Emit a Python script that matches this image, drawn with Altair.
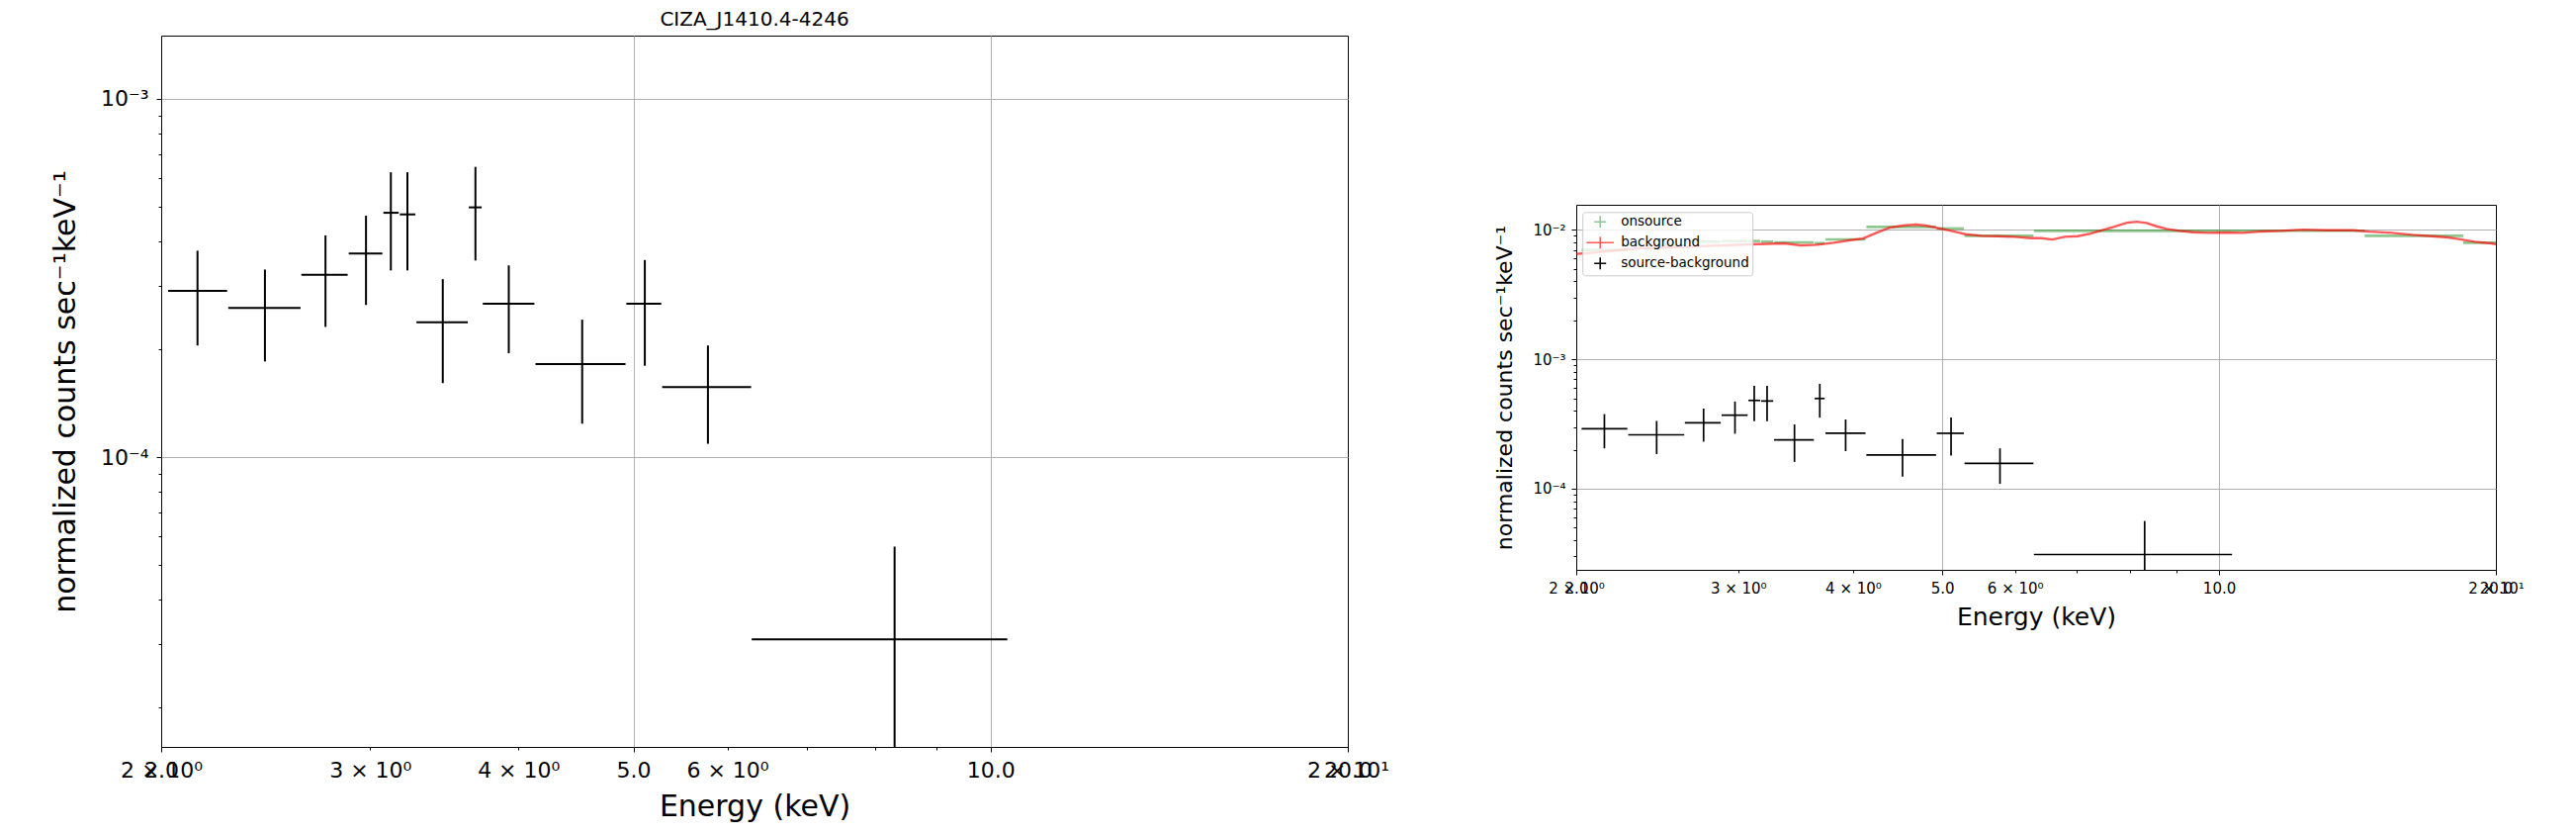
import altair as alt
import pandas as pd

# ---------------- data ----------------
# source-background (black crosses), energy in keV, counts in normalized counts/s/keV
sb_e   = [2.146, 2.446, 2.751, 2.976, 3.123, 3.225, 3.454, 3.680, 3.926, 4.527, 5.112, 5.778, 8.30]
sb_elo = [2.027, 2.278, 2.625, 2.878, 3.078, 3.178, 3.282, 3.633, 3.733, 4.135, 4.932, 5.287, 6.29]
sb_ehi = [2.273, 2.621, 2.872, 3.072, 3.171, 3.275, 3.626, 3.725, 4.126, 4.924, 5.278, 6.283, 10.33]
sb_c   = [2.91e-4, 2.61e-4, 3.23e-4, 3.70e-4, 4.81e-4, 4.76e-4, 2.38e-4, 4.98e-4, 2.68e-4, 1.82e-4, 2.68e-4, 1.57e-4, 3.10e-5]
sb_clo = [2.05e-4, 1.85e-4, 2.31e-4, 2.66e-4, 3.32e-4, 3.32e-4, 1.61e-4, 3.54e-4, 1.95e-4, 1.24e-4, 1.80e-4, 1.09e-4, 6.0e-6]
sb_chi = [3.77e-4, 3.34e-4, 4.16e-4, 4.72e-4, 6.24e-4, 6.24e-4, 3.14e-4, 6.46e-4, 3.43e-4, 2.42e-4, 3.55e-4, 2.05e-4, 5.63e-5]

# onsource (green bins)
on_lo = [2.027, 2.278, 2.625, 2.878, 3.078, 3.178, 3.282, 3.633, 3.733, 4.135, 4.932, 5.287, 6.29, 10.33, 14.4, 18.43]
on_hi = [2.273, 2.621, 2.872, 3.072, 3.171, 3.275, 3.626, 3.725, 4.126, 4.924, 5.278, 6.283, 10.33, 14.4, 18.43, 20.0]
on_c  = [7.0e-3, 7.6e-3, 8.1e-3, 8.2e-3, 8.2e-3, 8.1e-3, 8.0e-3, 7.9e-3, 8.44e-3, 1.054e-2, 1.025e-2, 9.0e-3,
         9.82e-3, 9.85e-3, 9.0e-3, 7.96e-3]

# background (red curve)
bg_e = [2.00, 2.05, 2.34, 2.76, 3.15, 3.37, 3.51, 3.66, 3.81, 3.97, 4.10, 4.24, 4.38, 4.53, 4.68, 4.80,
        4.92, 5.04, 5.17, 5.30, 5.52, 5.75, 6.00, 6.25, 6.41, 6.59, 6.79, 7.02, 7.25, 7.50, 7.68, 7.94,
        8.14, 8.34, 8.55, 8.77, 9.06, 9.37, 9.76, 10.17, 10.60, 11.05, 11.66, 12.35, 13.09, 13.98, 14.57,
        15.43, 16.22, 17.04, 17.76, 18.35, 18.97, 19.77, 20.0]
bg_c = [6.52e-3, 6.59e-3, 7.20e-3, 7.50e-3, 7.77e-3, 7.86e-3, 7.59e-3, 7.68e-3, 7.95e-3, 8.33e-3, 8.58e-3,
        9.48e-3, 1.041e-2, 1.079e-2, 1.098e-2, 1.079e-2, 1.041e-2, 1.005e-2, 9.65e-3, 9.26e-3, 8.99e-3,
        8.94e-3, 8.84e-3, 8.63e-3, 8.63e-3, 8.43e-3, 8.84e-3, 8.94e-3, 9.37e-3, 1.005e-2, 1.054e-2,
        1.137e-2, 1.157e-2, 1.130e-2, 1.066e-2, 1.017e-2, 9.82e-3, 9.59e-3, 9.48e-3, 9.54e-3, 9.48e-3,
        9.70e-3, 9.82e-3, 1.005e-2, 9.94e-3, 9.94e-3, 9.70e-3, 9.48e-3, 9.15e-3, 8.94e-3, 8.74e-3,
        8.43e-3, 8.09e-3, 7.86e-3, 7.77e-3]

series_names = ["onsource", "background", "source-background"]
title_text = "CIZA_J1410.4-4246"
x_title = "Energy (keV)"
y_title = "normalized counts sec\u207b\u00b9keV\u207b\u00b9"

x_domain = [2.0, 20.0]
left_y_domain = [1.553e-5, 1.502e-3]
right_y_domain = [2.36e-5, 1.563e-2]

x_major_ticks = [2, 5, 10, 20]
x_minor_ticks = [2, 3, 4, 6, 7, 8, 9, 20]
left_y_major = [1e-4, 1e-3]
left_y_minor = [2e-5, 3e-5, 4e-5, 5e-5, 6e-5, 7e-5, 8e-5, 9e-5, 2e-4, 3e-4, 4e-4, 5e-4, 6e-4, 7e-4, 8e-4, 9e-4]
right_y_major = [1e-4, 1e-3, 1e-2]
right_y_minor = [3e-5, 4e-5, 5e-5, 6e-5, 7e-5, 8e-5, 9e-5, 2e-4, 3e-4, 4e-4, 5e-4, 6e-4, 7e-4, 8e-4, 9e-4,
                 2e-3, 3e-3, 4e-3, 5e-3, 6e-3, 7e-3, 8e-3, 9e-3]

sb = pd.DataFrame(dict(e=sb_e, elo=sb_elo, ehi=sb_ehi, c=sb_c, clo=sb_clo, chi=sb_chi))
sb["series"] = "source-background"
on = pd.DataFrame(dict(lo=on_lo, hi=on_hi, c=on_c))
bg = pd.DataFrame(dict(e=bg_e, c=bg_c))

FONT = "DejaVu Sans"
GRID = "#b0b0b0"

x_minor_expr = ("datum.value == 2 ? '2 \u00d7 10\u2070' : datum.value == 3 ? '3 \u00d7 10\u2070' : "
                "datum.value == 4 ? '4 \u00d7 10\u2070' : datum.value == 6 ? '6 \u00d7 10\u2070' : "
                "datum.value == 20 ? '2 \u00d7 10\u00b9' : ''")
y_major_expr = ("datum.value < 0.00005 ? '10\u207b\u2075' : datum.value < 0.0005 ? '10\u207b\u2074' : "
                "datum.value < 0.005 ? '10\u207b\u00b3' : '10\u207b\u00b2'")
x_grid_op = {"condition": {"test": "datum.value == 5 || datum.value == 10", "value": 1}, "value": 0}


def axes(tick_fs, xt_fs, yt_fs, x_tpad, y_tpad, ymaj, ymin, lab_pad):
    xmaj = alt.Axis(values=x_major_ticks, format=".1f", labelFontSize=tick_fs, tickSize=5,
                    labelPadding=lab_pad, grid=True, gridColor=GRID, gridWidth=1, gridOpacity=x_grid_op,
                    labelFlush=False, labelOverlap=False, title=x_title, titleFontSize=xt_fs,
                    titlePadding=x_tpad, orient="bottom")
    xmin = alt.Axis(values=x_minor_ticks, labelExpr=x_minor_expr, labelFontSize=tick_fs, tickSize=3,
                    labelPadding=lab_pad + 2, grid=False, labelFlush=False, labelOverlap=False,
                    title=None, orient="bottom")
    ya = alt.Axis(values=ymaj, labelExpr=y_major_expr, labelFontSize=tick_fs, tickSize=5,
                  labelPadding=lab_pad, grid=True, gridColor=GRID, gridWidth=1, labelFlush=False,
                  labelOverlap=False, title=y_title, titleFontSize=yt_fs, titlePadding=y_tpad,
                  orient="left")
    yb = alt.Axis(values=ymin, labels=False, tickSize=3, grid=False, title=None, orient="left")
    return xmaj, xmin, ya, yb


# ---------------- left panel ----------------
xs_L = alt.Scale(type="log", domain=x_domain, nice=False)
ys_L = alt.Scale(type="log", domain=left_y_domain, nice=False)
xmaj, xmin, ya, yb = axes(22, 30, 30, 11, 20, left_y_major, left_y_minor, 8)

l_h = alt.Chart(sb).mark_rule(color="black", strokeWidth=2, clip=True).encode(
    x=alt.X("elo:Q", scale=xs_L, axis=xmaj), x2="ehi:Q",
    y=alt.Y("c:Q", scale=ys_L, axis=ya))
l_v = alt.Chart(sb).mark_rule(color="black", strokeWidth=2, clip=True).encode(
    x=alt.X("e:Q", scale=xs_L, axis=xmin),
    y=alt.Y("clo:Q", scale=ys_L, axis=yb), y2="chi:Q")

left = alt.layer(l_h, l_v).resolve_axis(x="independent", y="independent").properties(
    width=1200, height=719,
    title=alt.TitleParams(title_text, fontSize=20, font=FONT, fontWeight="normal", anchor="middle",
                          frame="group", baseline="alphabetic", offset=-10, color="black"))

# ---------------- right panel ----------------
xs_R = alt.Scale(type="log", domain=x_domain, nice=False)
ys_R = alt.Scale(type="log", domain=right_y_domain, nice=False)
xmaj2, xmin2, ya2, yb2 = axes(15, 25, 22, 9, 16, right_y_major, right_y_minor, 6)

r_on = alt.Chart(on).mark_rule(color="#008000", opacity=0.44, strokeWidth=2.6, clip=True).encode(
    x=alt.X("lo:Q", scale=xs_R, axis=None), x2="hi:Q",
    y=alt.Y("c:Q", scale=ys_R, axis=None))
r_bg = alt.Chart(bg).mark_line(color="#ff0000", opacity=0.65, strokeWidth=2.4, clip=True).encode(
    x=alt.X("e:Q", scale=xs_R, axis=None),
    y=alt.Y("c:Q", scale=ys_R, axis=None))
r_h = alt.Chart(sb).mark_rule(color="black", strokeWidth=1.7, clip=True).encode(
    x=alt.X("elo:Q", scale=xs_R, axis=xmaj2), x2="ehi:Q",
    y=alt.Y("c:Q", scale=ys_R, axis=ya2))
r_v = alt.Chart(sb).mark_rule(color="black", strokeWidth=1.7, clip=True).encode(
    x=alt.X("e:Q", scale=xs_R, axis=xmin2),
    y=alt.Y("clo:Q", scale=ys_R, axis=yb2), y2="chi:Q")

# legend is laid out in the top-level group, whose origin is the left plot's corner
leg = alt.Legend(orient="none", legendX=1437.2, legendY=178.3, title=None,
                 fillColor="rgba(255,255,255,0.8)", strokeColor="#cccccc", cornerRadius=3,
                 padding=3, labelFont=FONT, labelFontSize=13.5, labelColor="black",
                 symbolSize=144, symbolStrokeWidth=1.5, symbolOpacity=1, rowPadding=3,
                 labelOffset=14, symbolOffset=8)
shape_paths = ["M-1,0H1M0,-1V1", "M-2.3,0H2.3M0,-1V1", "M-1,0H1M0,-1V1"]
r_leg = alt.Chart(sb).mark_point(opacity=0, filled=False).encode(
    x=alt.X("e:Q", scale=xs_R, axis=None),
    y=alt.Y("c:Q", scale=ys_R, axis=None),
    color=alt.Color("series:N", scale=alt.Scale(domain=series_names,
                                                range=["#8fc88f", "#ff5a5a", "black"]), legend=leg),
    shape=alt.Shape("series:N", scale=alt.Scale(domain=series_names, range=shape_paths), legend=leg))

right = alt.layer(r_on, r_bg, r_h, r_v, r_leg).resolve_axis(
    x="independent", y="independent").properties(width=930, height=369)

spacer = alt.Chart(pd.DataFrame({"a": [0]})).mark_point(opacity=0).encode(
    x=alt.X("a:Q", axis=None), y=alt.Y("a:Q", axis=None)).properties(
    width=930, height=151, view=alt.ViewBackground(strokeOpacity=0))

right_col = alt.vconcat(spacer, right, spacing=20, bounds="flush")

chart = alt.hconcat(left, right_col, spacing=231, bounds="flush").configure(
    padding={"left": 43, "top": 1, "right": 0, "bottom": 0}, font=FONT
).configure_view(stroke="black", strokeWidth=1).configure_axis(
    labelFont=FONT, titleFont=FONT, labelColor="black", titleColor="black", tickColor="black",
    titleFontWeight="normal", domain=False, tickWidth=1)

chart.save("out.html", embed_options={"renderer": "svg", "actions": False})
